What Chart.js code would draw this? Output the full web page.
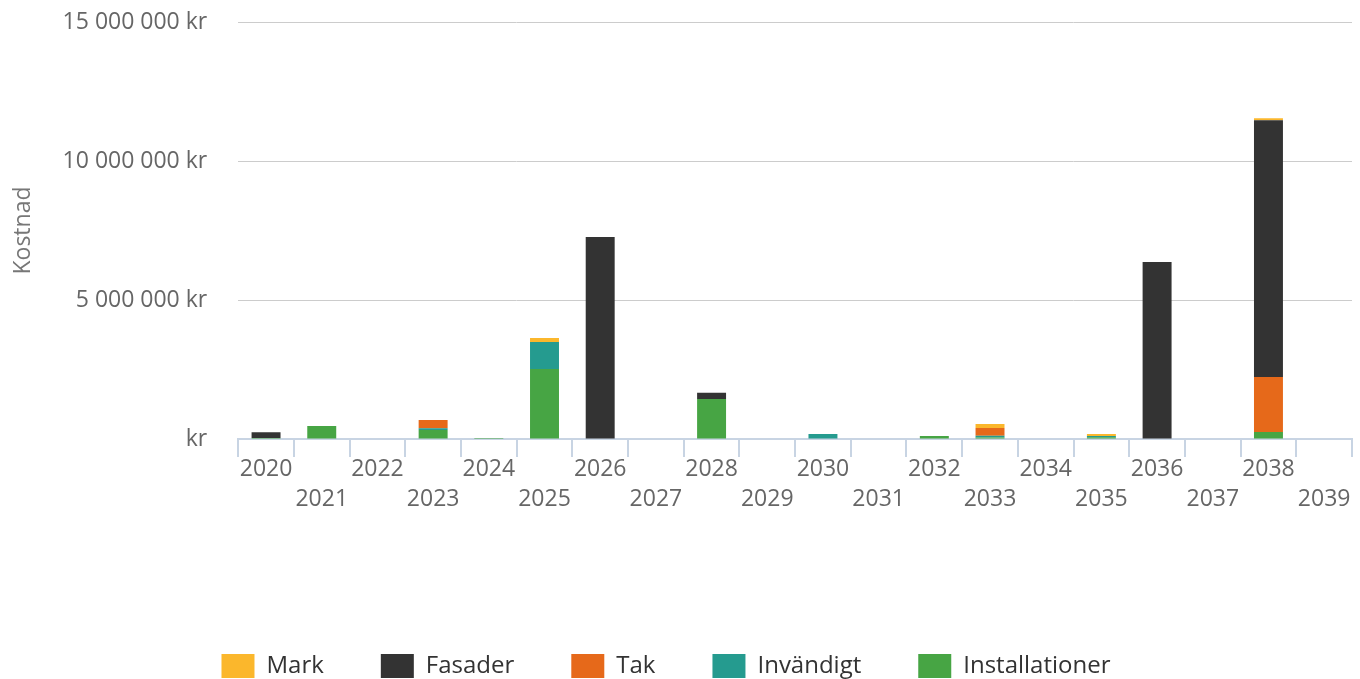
<!DOCTYPE html>
<html>
<head>
<meta charset="utf-8">
<script src="https://cdn.jsdelivr.net/npm/chart.js@4/dist/chart.umd.min.js"></script>
<style>
  html, body { margin: 0; padding: 0; background: #fff; }
  #wrap { width: 1360px; height: 679px; }
</style>
</head>
<body>
<div id="wrap"><canvas id="c"></canvas></div>
<script>
const years = ['2020','2021','2022','2023','2024','2025','2026','2027','2028','2029','2030','2031','2032','2033','2034','2035','2036','2037','2038','2039'];
const installationer = [40000, 470000, 0, 320000, 40000, 2520000, 0, 0, 1440000, 0, 0, 0, 110000, 50000, 0, 60000, 0, 0, 250000, 0];
const invandigt      = [0, 0, 0, 70000, 0, 970000, 0, 0, 0, 0, 180000, 0, 0, 70000, 0, 50000, 0, 0, 0, 0];
const tak            = [0, 0, 0, 290000, 0, 0, 0, 0, 0, 0, 0, 0, 0, 280000, 0, 0, 0, 0, 1980000, 0];
const fasader        = [200000, 0, 0, 0, 0, 0, 7270000, 0, 220000, 0, 0, 0, 0, 0, 0, 0, 6370000, 0, 9240000, 0];
const mark           = [0, 0, 0, 0, 0, 140000, 0, 0, 0, 0, 0, 0, 0, 140000, 0, 70000, 0, 0, 70000, 0];
const yTicks = [0, 5000000, 10000000, 15000000];

const FONT = '"Open Sans", Lato, sans-serif';
function fmt(v) {
  if (v === 0) return 'kr';
  return String(v).replace(/\B(?=(\d{3})+(?!\d))/g, ' ') + ' kr';
}

const legendShift = {
  id: 'legendShift',
  afterLayout(chart) {
    if (chart.legend) { chart.legend.left -= 30; }
  }
};

new Chart(document.getElementById('c'), {
  type: 'bar',
  data: {
    labels: years.map((y, i) => i % 2 === 0 ? [y] : ['', y]),
    datasets: [
      { label: 'Installationer', data: installationer, backgroundColor: '#47a544' },
      { label: 'Invändigt', data: invandigt, backgroundColor: '#259b8f' },
      { label: 'Tak', data: tak, backgroundColor: '#e6691a' },
      { label: 'Fasader', data: fasader, backgroundColor: '#333333' },
      { label: 'Mark', data: mark, backgroundColor: '#fbb72c' }
    ]
  },
  plugins: [legendShift],
  options: {
    responsive: true,
    maintainAspectRatio: false,
    animation: false,
    layout: { padding: { top: 22, right: 8, left: 10, bottom: -9 } },
    datasets: { bar: { categoryPercentage: 1, barPercentage: 0.52 } },
    plugins: {
      tooltip: { enabled: false },
      legend: {
        position: 'bottom',
        reverse: true,
        labels: {
          color: '#333',
          font: { family: FONT, size: 24 },
          boxWidth: 33,
          boxHeight: 24,
          padding: 57
        }
      }
    },
    scales: {
      x: {
        stacked: true,
        grid: {
          offset: true,
          drawOnChartArea: false,
          drawTicks: true,
          tickLength: 18,
          color: '#c8d4e3',
          lineWidth: 2
        },
        border: { color: '#c8d4e3', width: 2 },
        ticks: {
          color: '#666',
          font: { family: FONT, size: 23, lineHeight: '30px' },
          padding: -3,
          maxRotation: 0,
          autoSkip: false
        },
        afterFit: (scale) => { scale.height += 86; }
      },
      y: {
        stacked: true,
        min: 0,
        max: 15000000,
        afterBuildTicks: (scale) => { scale.ticks = yTicks.map(v => ({ value: v })); },
        grid: {
          drawTicks: true,
          tickLength: 27,
          tickColor: 'rgba(0,0,0,0)',
          color: (ctx) => ctx.tick && ctx.tick.value === 0 ? 'rgba(0,0,0,0)' : '#cccccc',
          lineWidth: 1
        },
        border: { display: false },
        ticks: {
          color: '#666',
          font: { family: FONT, size: 23 },
          padding: 4,
          callback: (v) => fmt(v)
        },
        title: {
          display: true,
          text: 'Kostnad',
          color: '#777',
          font: { family: FONT, size: 23 },
          padding: { top: 0, bottom: 21 }
        }
      }
    }
  }
});
</script>
</body>
</html>
